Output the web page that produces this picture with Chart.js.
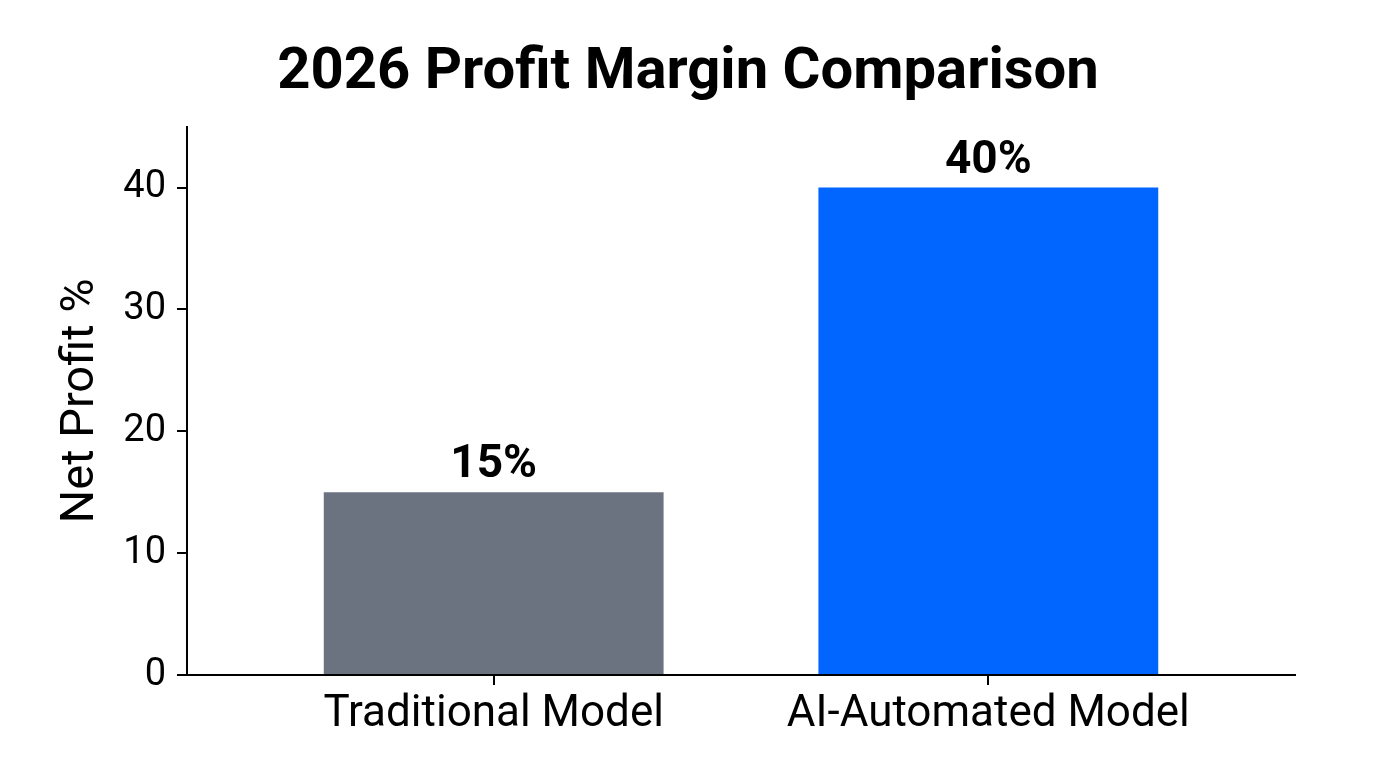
<!DOCTYPE html>
<html>
<head>
<meta charset="utf-8">
<script src="https://cdn.jsdelivr.net/npm/chart.js@4.4.1/dist/chart.umd.min.js"></script>
<style>
  html, body { margin: 0; padding: 0; background: #ffffff; }
  #wrap { width: 1376px; height: 768px; position: relative; }
</style>
</head>
<body>
<div id="wrap"><canvas id="c"></canvas></div>
<script>
const chartTitle = '2026 Profit Margin Comparison';
const yAxisTitle = 'Net Profit %';
const categories = ['Traditional Model', 'AI-Automated Model'];
const profitValues = [15, 40];
const valueLabels = ['15%', '40%'];
const barColors = ['#6b7280', '#0066ff'];
const yTicks = [0, 10, 20, 30, 40];

const points = categories.map((c, i) => ({ x: i, y: profitValues[i] }));

const valueLabelPlugin = {
  id: 'valueLabels',
  afterDatasetsDraw(chart) {
    const ctx = chart.ctx;
    const meta = chart.getDatasetMeta(0);
    ctx.save();
    ctx.font = 'bold 46px Roboto';
    ctx.fillStyle = '#000';
    ctx.textAlign = 'center';
    ctx.textBaseline = 'alphabetic';
    meta.data.forEach((bar, i) => {
      ctx.fillText(valueLabels[i], bar.x, bar.y - 15);
    });
    ctx.restore();
  }
};

new Chart(document.getElementById('c'), {
  type: 'bar',
  data: {
    datasets: [{
      data: points,
      backgroundColor: barColors,
      borderWidth: 0,
      categoryPercentage: 1,
      barPercentage: 0.687,
      xAxisID: 'x',
      yAxisID: 'y'
    }]
  },
  options: {
    responsive: true,
    maintainAspectRatio: false,
    animation: false,
    devicePixelRatio: 1,
    layout: { padding: 0 },
    plugins: {
      legend: { display: false },
      tooltip: { enabled: false },
      title: {
        display: true,
        text: chartTitle,
        color: '#000',
        font: { family: 'Roboto', size: 58, weight: 'bold', lineHeight: 1.2 },
        padding: { top: 39, bottom: 18 }
      }
    },
    scales: {
      x: {
        type: 'linear',
        offset: false,
        min: -0.62,
        max: 1.62,
        afterBuildTicks(scale) {
          scale.ticks = categories.map((c, i) => ({ value: i }));
        },
        afterFit(scale) { scale.height = 93; },
        ticks: {
          color: '#000',
          font: { family: 'Roboto', size: 44 },
          padding: 4,
          maxRotation: 0,
          autoSkip: false,
          callback: (v) => categories[v]
        },
        grid: {
          offset: false,
          drawOnChartArea: false,
          drawTicks: true,
          tickLength: 10,
          color: '#000',
          lineWidth: 2
        },
        border: { display: true, color: '#000', width: 2 }
      },
      y: {
        position: 'left',
        min: 0,
        max: 45,
        afterBuildTicks(scale) {
          scale.ticks = yTicks.map(v => ({ value: v }));
        },
        afterFit(scale) { scale.width = 187; },
        ticks: {
          color: '#000',
          font: { family: 'Roboto', size: 38 },
          padding: 11
        },
        grid: {
          drawOnChartArea: false,
          drawTicks: true,
          tickLength: 10,
          color: '#000',
          lineWidth: 2
        },
        border: { display: true, color: '#000', width: 2 },
        title: {
          display: true,
          text: yAxisTitle,
          color: '#000',
          font: { family: 'Roboto', size: 47, lineHeight: 1 },
          padding: { top: 58, bottom: 0 }
        }
      },
      yRight: {
        position: 'right',
        min: 0,
        max: 45,
        afterFit(scale) { scale.width = 81; },
        ticks: { display: false },
        grid: { display: false, drawTicks: false },
        border: { display: false }
      }
    }
  },
  plugins: [valueLabelPlugin]
});
</script>
</body>
</html>
